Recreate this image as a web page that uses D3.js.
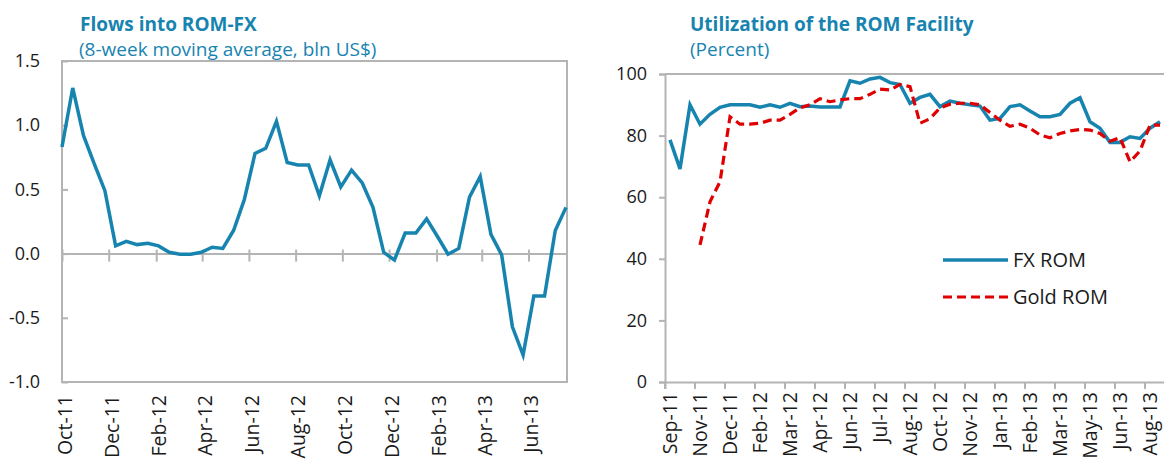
<!DOCTYPE html>
<html>
<head>
<meta charset="utf-8">
<script src="https://cdn.jsdelivr.net/npm/d3@7"></script>
<style>
  body { margin: 0; background: #fff; }
  text { font-family: "Open Sans", sans-serif; }
</style>
</head>
<body>
<div id="chart"></div>
<script>
// ROM charts: flows into ROM-FX (left) and facility utilization (right)

const WIDTH = 1164;
const HEIGHT = 461;
const TEAL = '#1784b0';
const RED = '#e00000';
const GRID = '#b4b4b4';

// left panel: biweekly 8-week moving average, bln US$
const flowDates = [
  '2011-10-01', '2011-10-15', '2011-10-29', '2011-11-12', '2011-11-26', '2011-12-10', '2011-12-24',
  '2012-01-07', '2012-01-21', '2012-02-04', '2012-02-18', '2012-03-03', '2012-03-17', '2012-03-31',
  '2012-04-14', '2012-04-28', '2012-05-12', '2012-05-26', '2012-06-09', '2012-06-23', '2012-07-07',
  '2012-07-21', '2012-08-04', '2012-08-18', '2012-09-01', '2012-09-15', '2012-09-29', '2012-10-13',
  '2012-10-27', '2012-11-10', '2012-11-24', '2012-12-08', '2012-12-22', '2013-01-05', '2013-01-19',
  '2013-02-02', '2013-02-16', '2013-03-02', '2013-03-16', '2013-03-30', '2013-04-13', '2013-04-27',
  '2013-05-11', '2013-05-25', '2013-06-08', '2013-06-22', '2013-07-06', '2013-07-20'
];
const flowValues = [
  0.83, 1.29, 0.92, 0.70, 0.49, 0.06, 0.095, 0.07, 0.08, 0.06,
  0.01, -0.005, -0.005, 0.01, 0.05, 0.04, 0.18, 0.42, 0.78, 0.82,
  1.03, 0.71, 0.69, 0.69, 0.45, 0.73, 0.52, 0.65, 0.55, 0.36,
  0.01, -0.05, 0.16, 0.16, 0.27, 0.135, -0.005, 0.04, 0.44, 0.60,
  0.15, -0.01, -0.57, -0.79, -0.33, -0.33, 0.18, 0.36
];
const flowTicksY = [-1, -0.5, 0, 0.5, 1, 1.5];

// right panel: utilization in percent, biweekly categories
const romDates = [
  '2011-09-30', '2011-10-14', '2011-10-28', '2011-11-11', '2011-11-25', '2011-12-09', '2011-12-23',
  '2012-01-06', '2012-01-20', '2012-02-03', '2012-02-17', '2012-03-02', '2012-03-16', '2012-03-30',
  '2012-04-13', '2012-04-27', '2012-05-11', '2012-05-25', '2012-06-08', '2012-06-22', '2012-07-06',
  '2012-07-20', '2012-08-03', '2012-08-17', '2012-08-31', '2012-09-14', '2012-09-28', '2012-10-12',
  '2012-10-26', '2012-11-09', '2012-11-23', '2012-12-07', '2012-12-21', '2013-01-04', '2013-01-18',
  '2013-02-01', '2013-02-15', '2013-03-01', '2013-03-15', '2013-03-29', '2013-04-12', '2013-04-26',
  '2013-05-10', '2013-05-24', '2013-06-07', '2013-06-21', '2013-07-05', '2013-07-19', '2013-08-02',
  '2013-08-16'
];
const fxRom = [
  78.6, 69.2, 90, 83.7, 86.9, 89.2, 90, 90, 90, 89.2,
  90, 89.2, 90.5, 89.4, 89.6, 89.3, 89.3, 89.3, 97.8, 97,
  98.4, 98.9, 97.2, 96.6, 90.5, 92.4, 93.4, 89.4, 91.2, 90.5,
  90, 89.6, 85, 85.6, 89.4, 90, 88, 86.1, 86.1, 86.9,
  90.5, 92.3, 84.5, 82.4, 77.8, 77.8, 79.6, 79.1, 82.4, 84.5
];
const goldRom = [
  null, null, null, 44.5, 58.5, 65, 86.1, 83.7, 83.7, 84,
  85, 85, 86.9, 89, 90, 92, 91, 91.6, 92, 92,
  93.4, 95.1, 94.8, 96.6, 95.9, 84, 85.5, 89, 90.2, 90.5,
  90.5, 90, 87.5, 85, 83, 83.7, 82.4, 80.2, 79.3, 80.7,
  81.5, 82, 81.8, 80.7, 78.2, 79.3, 71.5, 75, 83.4, 83.4
];
const romTicksY = [0, 20, 40, 60, 80, 100];
const legendNames = ['FX ROM', 'Gold ROM'];

const parse = d3.timeParse('%Y-%m-%d');
const fmtMonth = d3.timeFormat('%b-%y');

const svg = d3.select('#chart')
  .append('svg')
    .attr('width', WIDTH)
    .attr('height', HEIGHT);

// ---------- left chart ----------
const L = {left: 62, right: 567, top: 61, bottom: 382};

const xL = d3.scaleTime()
  .domain([parse(flowDates[0]), parse(flowDates[flowDates.length - 1])])
  .range([L.left, 566]);
const yL = d3.scaleLinear()
  .domain([-1, 1.5])
  .range([L.bottom, L.top]);

const left = svg.append('g');

left.append('rect')
  .attr('x', L.left).attr('y', L.top)
  .attr('width', L.right - L.left).attr('height', L.bottom - L.top)
  .attr('fill', 'none').attr('stroke', GRID).attr('stroke-width', 2);

const yAxisL = left.append('g')
  .attr('transform', 'translate(' + L.left + ',0)')
  .call(d3.axisLeft(yL).tickValues(flowTicksY).tickSize(-6).tickPadding(22)
    .tickFormat(d => d.toFixed(1)));
yAxisL.select('.domain').remove();
yAxisL.selectAll('line').attr('stroke', GRID).attr('stroke-width', 2);
yAxisL.selectAll('text').attr('font-size', 18).attr('fill', '#1a1a1a');

// every second month from Oct-11
const monthTicks = d3.timeMonth.range(new Date(2011, 9, 1), new Date(2013, 7, 1), 2);

const zeroAxis = left.append('g')
  .attr('transform', 'translate(0,' + yL(0) + ')')
  .call(d3.axisBottom(xL).tickValues(monthTicks).tickSize(0).tickFormat(''));
zeroAxis.select('.domain').attr('stroke', GRID).attr('stroke-width', 2);
zeroAxis.selectAll('.tick line')
  .attr('y1', -4).attr('y2', 8).attr('stroke', GRID).attr('stroke-width', 2);

left.append('g')
  .selectAll('text')
  .data(monthTicks)
  .enter()
  .append('text')
    .attr('transform', d => 'translate(' + (xL(d) + 3) + ',' + (L.bottom + 13) + ') rotate(-90)')
    .attr('dy', '0.35em')
    .attr('text-anchor', 'end')
    .attr('font-size', 19.5)
    .attr('fill', '#1a1a1a')
    .text(d => fmtMonth(d));

const flowData = flowDates.map((d, i) => ({date: parse(d), v: flowValues[i]}));
left.append('path')
  .datum(flowData)
  .attr('fill', 'none')
  .attr('stroke', TEAL)
  .attr('stroke-width', 3.5)
  .attr('d', d3.line().x(d => xL(d.date)).y(d => yL(d.v)));

left.append('text')
  .attr('x', 80).attr('y', 31)
  .attr('font-size', 19).attr('font-weight', 'bold').attr('fill', TEAL)
  .text('Flows into ROM-FX');
left.append('text')
  .attr('x', 79).attr('y', 56)
  .attr('font-size', 19).attr('fill', TEAL)
  .text('(8-week moving average, bln US$)');

// ---------- right chart ----------
const R = {left: 665, top: 74, bottom: 382};

const xR = d3.scaleBand()
  .domain(romDates)
  .range([R.left, R.left + romDates.length * 10])
  .paddingInner(0).paddingOuter(0);
const bw = xR.bandwidth();
const yR = d3.scaleLinear()
  .domain([0, 100])
  .range([R.bottom, R.top]);

const right = svg.append('g');

right.append('line')
  .attr('x1', R.left).attr('x2', WIDTH + 20)
  .attr('y1', R.top).attr('y2', R.top)
  .attr('stroke', GRID).attr('stroke-width', 2);

const yAxisR = right.append('g')
  .attr('transform', 'translate(' + R.left + ',0)')
  .call(d3.axisLeft(yR).tickValues(romTicksY).tickSize(6).tickPadding(12));
yAxisR.select('.domain').attr('stroke', GRID).attr('stroke-width', 2);
yAxisR.selectAll('line').attr('stroke', GRID).attr('stroke-width', 2);
yAxisR.selectAll('text').attr('font-size', 18).attr('fill', '#1a1a1a');

const romTickCats = romDates.filter((d, i) => i % 3 === 0);

const xAxisR = right.append('g')
  .attr('transform', 'translate(0,' + R.bottom + ')')
  .call(d3.axisBottom(xR).tickValues(romTickCats).tickSize(7).tickFormat(''));
xAxisR.select('.domain').attr('stroke', GRID).attr('stroke-width', 2);
xAxisR.selectAll('.tick line')
  .attr('x1', -bw / 2).attr('x2', -bw / 2)
  .attr('stroke', GRID).attr('stroke-width', 2);

right.append('g')
  .selectAll('text')
  .data(romTickCats)
  .enter()
  .append('text')
    .attr('transform', d => 'translate(' + (xR(d) + bw / 2) + ',' + (R.bottom + 10) + ') rotate(-90)')
    .attr('dy', '0.35em')
    .attr('text-anchor', 'end')
    .attr('font-size', 19.5)
    .attr('fill', '#1a1a1a')
    .text(d => fmtMonth(parse(d)));

const romLine = d3.line()
  .defined(d => d.v !== null)
  .x(d => xR(d.date) + bw / 2)
  .y(d => yR(d.v));

right.append('path')
  .datum(romDates.map((d, i) => ({date: d, v: fxRom[i]})))
  .attr('fill', 'none')
  .attr('stroke', TEAL)
  .attr('stroke-width', 3.5)
  .attr('d', romLine);

right.append('path')
  .datum(romDates.map((d, i) => ({date: d, v: goldRom[i]})))
  .attr('fill', 'none')
  .attr('stroke', RED)
  .attr('stroke-width', 3.2)
  .attr('stroke-dasharray', '9,5')
  .attr('d', romLine);

// legend
const legend = right.append('g');
legendNames.forEach((name, i) => {
  const y = 260 + i * 37;
  legend.append('line')
    .attr('x1', 943).attr('x2', 1008)
    .attr('y1', y).attr('y2', y)
    .attr('stroke', i === 0 ? TEAL : RED)
    .attr('stroke-width', i === 0 ? 3.5 : 3.2)
    .attr('stroke-dasharray', i === 0 ? null : '9,5');
  legend.append('text')
    .attr('x', 1013).attr('y', y)
    .attr('dy', '0.35em')
    .attr('font-size', 20)
    .attr('fill', '#1a1a1a')
    .text(name);
});

right.append('text')
  .attr('x', 690).attr('y', 31)
  .attr('font-size', 19).attr('font-weight', 'bold').attr('fill', TEAL)
  .text('Utilization of the ROM Facility');
right.append('text')
  .attr('x', 690).attr('y', 56)
  .attr('font-size', 19).attr('fill', TEAL)
  .text('(Percent)');
</script>
</body>
</html>
